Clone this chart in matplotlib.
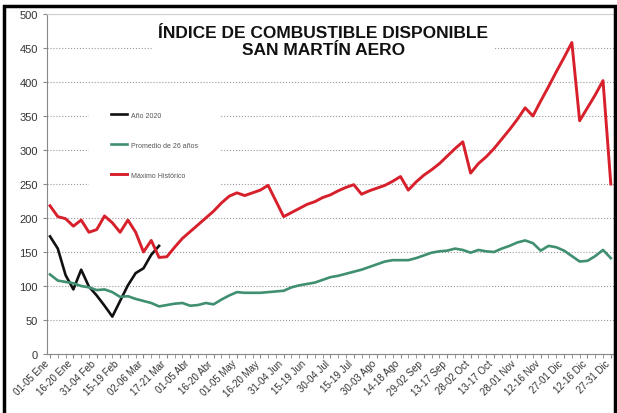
import matplotlib
matplotlib.use("Agg")
import matplotlib.pyplot as plt
from matplotlib.patches import Rectangle
from matplotlib.transforms import ScaledTranslation
import numpy as np

plt.rcParams['font.family'] = ['Liberation Sans', 'DejaVu Sans']

# 73 periodos de 5 dias; etiquetas cada 3 periodos
etiquetas = ['01-05 Ene', '16-20 Ene', '31-04 Feb', '15-19 Feb', '02-06 Mar', '17-21 Mar',
             '01-05 Abr', '16-20 Abr', '01-05 May', '16-20 May', '31-04 Jun', '15-19 Jun',
             '30-04 Jul', '15-19 Jul', '30-03 Ago', '14-18 Ago', '29-02 Sep', '13-17 Sep',
             '28-02 Oct', '13-17 Oct', '28-01 Nov', '12-16 Nov', '27-01 Dic', '12-16 Dic',
             '27-31 Dic']

anio_2020 = [173, 155, 116, 95, 124, 99, 86, 71, 55, 78, 101, 119, 126, 146, 159]

promedio = [117, 108, 106, 104, 100, 98, 94, 95, 91, 84, 85, 81, 78, 75, 70, 72, 74, 75, 71,
            72, 75, 73, 80, 86, 91, 90, 90, 90, 91, 92, 93, 98, 101, 103, 105, 109, 113, 115,
            118, 121, 124, 128, 132, 136, 138, 138, 138, 141, 145, 149, 151, 152, 155, 153,
            149, 153, 151, 150, 155, 159, 164, 167, 163, 152, 159, 157, 152, 144, 136, 137,
            144, 153, 141]

maximo = [218, 202, 199, 188, 197, 179, 183, 203, 193, 179, 197, 179, 150, 167, 142, 143,
          157, 170, 180, 190, 200, 210, 222, 232, 237, 233, 237, 241, 248, 225, 202, 208,
          214, 220, 224, 230, 234, 240, 245, 249, 235, 240, 244, 248, 254, 261, 241, 253,
          263, 271, 280, 291, 302, 312, 266, 280, 290, 302, 316, 330, 345, 362, 350, 372,
          393, 415, 436, 458, 343, 362, 381, 402, 250]

fig = plt.figure(figsize=(6.17, 4.14), dpi=100)
ax = fig.add_axes([0.076, 0.1425, 0.919, 0.8213])

x_all = np.arange(len(maximo))
ax.plot(np.arange(len(anio_2020)), anio_2020, color='#111111', lw=1.9, label='Año 2020')
ax.plot(x_all, promedio, color='#3f8f70', lw=1.9, label='Promedio de 26 años')
ax.plot(x_all, maximo, color='#d7202b', lw=2.1, label='Máximo Histórico')

ax.set_xlim(-0.4, 72.4)
ax.set_ylim(0, 500)
ax.set_yticks(np.arange(0, 501, 50))
pos_etiq = np.arange(0, 73, 3)
ax.set_xticks(pos_etiq)
ax.set_xticks(np.arange(0, 73, 1), minor=True)
ax.tick_params(axis='x', labelbottom=False)

# etiquetas giradas, algo desplazadas a la izquierda como en Excel
desplaz = ax.get_xaxis_transform() + ScaledTranslation(-6 / 100, -4 / 100, fig.dpi_scale_trans)
for p, lab in zip(pos_etiq, etiquetas):
    ax.text(p, 0, lab, transform=desplaz, rotation=45, ha='right', va='top',
            rotation_mode='anchor', fontsize=7, color='#333333')

ax.tick_params(axis='y', labelsize=8, labelcolor='#333333', length=3, color='#888888')
ax.tick_params(axis='x', which='both', length=3, color='#888888')
ax.yaxis.grid(True, ls=':', color='#999999', lw=0.8)
ax.set_axisbelow(True)
for s in ['left', 'bottom']:
    ax.spines[s].set_color('#888888')
for s in ['top', 'right']:
    ax.spines[s].set_color('#d0d0d0')

leg = ax.legend(loc='center', bbox_to_anchor=(0.19, 0.614), fontsize=5, frameon=True,
                labelspacing=3.3, handlelength=2.3, handletextpad=0.6, borderpad=3.2,
                fancybox=False, edgecolor='none', framealpha=1)
for t in leg.get_texts():
    t.set_color('#555555')

fig.text(0.524, 1 - 42 / 414, 'ÍNDICE DE COMBUSTIBLE DISPONIBLE\nSAN MARTÍN AERO',
         ha='center', va='center', fontsize=12.5, fontweight='bold', color='#111111',
         linespacing=1.2, bbox=dict(facecolor='white', edgecolor='none', pad=4))

fig.patches.append(Rectangle((0.0065, -0.01), 0.991, 0.994, transform=fig.transFigure,
                             fill=False, ec='black', lw=2.5))

fig.savefig('out.png', dpi=100)
